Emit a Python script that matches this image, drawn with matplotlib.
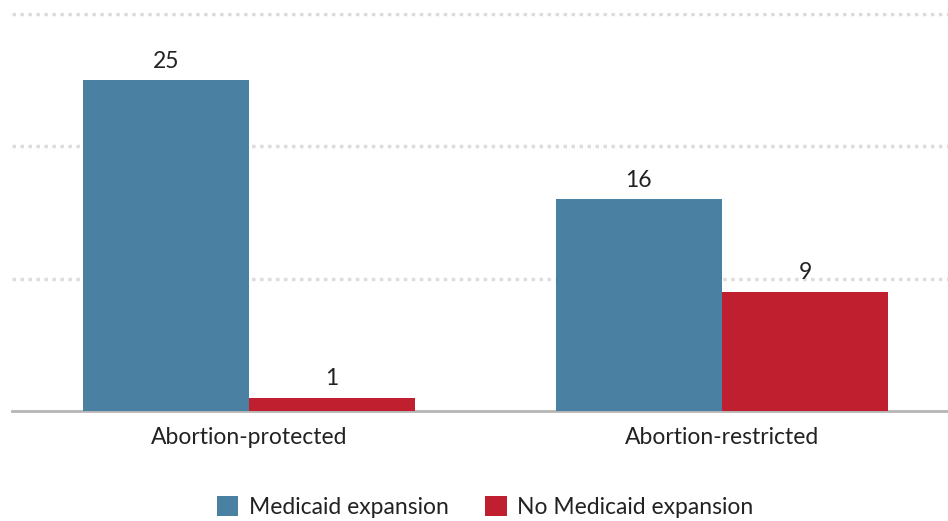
import numpy as np
import matplotlib.pyplot as plt
from matplotlib.patches import Patch

plt.rcParams['font.family'] = ['Lato', 'DejaVu Sans']

# Data
categories = ['Abortion-protected', 'Abortion-restricted']
series_names = ['Medicaid expansion', 'No Medicaid expansion']
expansion = [25, 16]
no_expansion = [1, 9]
colors = ['#4a80a1', '#c01f30']

fig = plt.figure(figsize=(9.48, 5.21), dpi=100)
ax = fig.add_axes([12 / 948, (521 - 411) / 521, 936 / 948, 398 / 521])

x = np.arange(len(categories))
w = 0.351
b1 = ax.bar(x - w / 2, expansion, w, color=colors[0], zorder=3)
b2 = ax.bar(x + w / 2, no_expansion, w, color=colors[1], zorder=3)

for bars in (b1, b2):
    for rect in bars:
        h = rect.get_height()
        ax.annotate(f'{h:g}', (rect.get_x() + rect.get_width() / 2, h),
                    xytext=(0, 6), textcoords='offset points',
                    ha='center', va='bottom', fontsize=16.5, color='#222222', zorder=4)

ax.set_xlim(-0.501, 1.478)
ax.set_ylim(0, 30.05)
ax.set_yticks([10, 20, 30])
ax.yaxis.grid(True, color='#dcdcdc', linestyle=(0, (1, 1.3)), linewidth=2.5, zorder=0)
ax.tick_params(axis='y', left=False, labelleft=False)
ax.tick_params(axis='x', bottom=False, labelsize=16.5, pad=8, labelcolor='#222222')
ax.set_xticks(x)
ax.set_xticklabels(categories)
for s in ['top', 'right', 'left']:
    ax.spines[s].set_visible(False)
ax.spines['bottom'].set_color('#b5b5b5')
ax.spines['bottom'].set_linewidth(2)

handles = [Patch(facecolor=c, label=n) for c, n in zip(colors, series_names)]
fig.legend(handles=handles, loc='center', bbox_to_anchor=(485 / 948, 1 - 507 / 521),
           ncol=2, frameon=False, fontsize=16.5, handlelength=0.95, handleheight=0.95,
           columnspacing=1.6, handletextpad=0.45, labelcolor='#222222')

fig.savefig('out.png', dpi=100)
